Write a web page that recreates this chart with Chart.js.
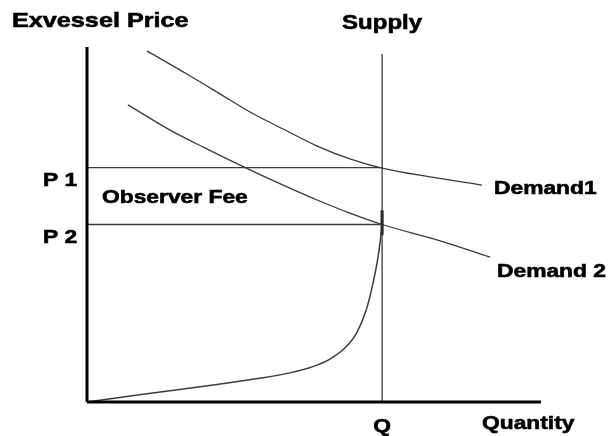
<!DOCTYPE html>
<html lang="en">
<head>
<meta charset="UTF-8">
<title>Exvessel Price</title>
<script src="https://cdn.jsdelivr.net/npm/chart.js"></script>
<style>
    body { margin: 0; background: #fff; }
    canvas { display: block; }
</style>
</head>
<body>
<canvas id="feeChart" width="613" height="436"></canvas>
<script>
// values (quantity 0-100, price 0-100)
var quantityQ = 65;
var priceP1 = 66;
var priceP2 = 50;
var supplyTop = 98;

var demand1Q = [13.2, 22.0, 29.3, 35.9, 43.2, 50.7, 57.9, 65, 75.6, 87];
var demand1P = [98.9, 92.4, 86.8, 81.7, 76.9, 72.1, 68.5, 65.9, 63.4, 61.1];

var demand2Q = [9, 18.3, 25.6, 35.9, 43.2, 50.7, 57.9, 65, 77.8, 88.8];
var demand2P = [83.7, 76.6, 71.8, 65.4, 61.1, 56.9, 53.2, 50, 45.4, 40.8];

var curveQ = [0, 13.2, 27.8, 38.8, 44.7, 49.6, 53.5, 56.8, 59.5, 61.5, 63.0, 64.1, 64.8, 65];
var curveP = [0, 2.3, 4.8, 6.8, 8.2, 9.9, 12.1, 15.2, 19.7, 25.9, 33.5, 40.8, 47.6, 50];

function toPoints(xs, ys) {
    return xs.map(function (x, i) { return { x: x, y: ys[i] }; });
}

var lineColor = '#3a3a3a';

function lineSet(points, width, color, smooth) {
    return {
        data: points,
        showLine: true,
        borderColor: color || lineColor,
        borderWidth: width,
        pointRadius: 0,
        tension: smooth ? 0.4 : 0,
        cubicInterpolationMode: smooth ? 'monotone' : 'default',
        fill: false,
        clip: false
    };
}

var datasets = [
    lineSet([{ x: 0, y: 0 }, { x: 0, y: 100 }], 3, '#000'),
    lineSet([{ x: 0, y: 0 }, { x: 100, y: 0 }], 3, '#000'),
    lineSet([{ x: 0, y: priceP1 }, { x: quantityQ, y: priceP1 }], 1.3),
    lineSet([{ x: 0, y: priceP2 }, { x: quantityQ, y: priceP2 }], 1.3),
    lineSet([{ x: quantityQ, y: 0 }, { x: quantityQ, y: supplyTop }], 1.3),
    lineSet([{ x: quantityQ, y: 47 }, { x: quantityQ, y: 54 }], 3, '#111'),
    lineSet(toPoints(curveQ, curveP), 1.5, lineColor, true),
    lineSet(toPoints(demand1Q, demand1P), 1.3, lineColor, true),
    lineSet(toPoints(demand2Q, demand2P), 1.3, lineColor, true)
];

// text labels: pixel positions, or tied to the scales where they mark a value
var labels = [
    { text: 'Exvessel Price', x: 12, y: 21, size: 21, align: 'left' },
    { text: 'Supply', qx: quantityQ, y: 23, size: 20, align: 'center' },
    { text: 'P 1', x: 43, py: priceP1, dy: 13, size: 19, align: 'left' },
    { text: 'P 2', x: 43, py: priceP2, dy: 13, size: 19, align: 'left' },
    { text: 'Observer Fee', x: 102, y: 198, size: 19, align: 'left' },
    { text: 'Demand1', x: 494, y: 189, size: 19, align: 'left' },
    { text: 'Demand 2', x: 497, y: 272, size: 19, align: 'left' },
    { text: 'Q', qx: quantityQ, y: 427, size: 19, align: 'center' },
    { text: 'Quantity', x: 482, y: 424, size: 19, align: 'left' }
];
var stretch = 1.2;

var labelPlugin = {
    id: 'labels',
    afterDraw: function (chart) {
        var ctx = chart.ctx;
        var xs = chart.scales.x, ys = chart.scales.y;
        labels.forEach(function (l) {
            var x = l.qx !== undefined ? xs.getPixelForValue(l.qx) : l.x;
            var y = l.py !== undefined ? ys.getPixelForValue(l.py) + l.dy : l.y;
            ctx.save();
            ctx.font = 'bold ' + l.size + 'px "Liberation Sans", Arial, sans-serif';
            ctx.fillStyle = '#000';
            ctx.strokeStyle = '#000';
            ctx.lineWidth = 0.6;
            ctx.textBaseline = 'middle';
            ctx.textAlign = l.align;
            ctx.translate(x, y);
            ctx.scale(stretch, 1);
            ctx.fillText(l.text, 0, 0);
            ctx.strokeText(l.text, 0, 0);
            ctx.restore();
        });
    }
};

var ctx = document.getElementById('feeChart').getContext('2d');
var feeChart = new Chart(ctx, {
    type: 'scatter',
    data: { datasets: datasets },
    options: {
        responsive: false,
        animation: false,
        layout: { padding: { left: 87, right: 72, top: 47, bottom: 34 } },
        plugins: { legend: { display: false }, tooltip: { enabled: false } },
        scales: {
            x: { type: 'linear', min: 0, max: 100, display: false },
            y: { type: 'linear', min: 0, max: 100, display: false }
        }
    },
    plugins: [labelPlugin]
});
</script>
</body>
</html>
